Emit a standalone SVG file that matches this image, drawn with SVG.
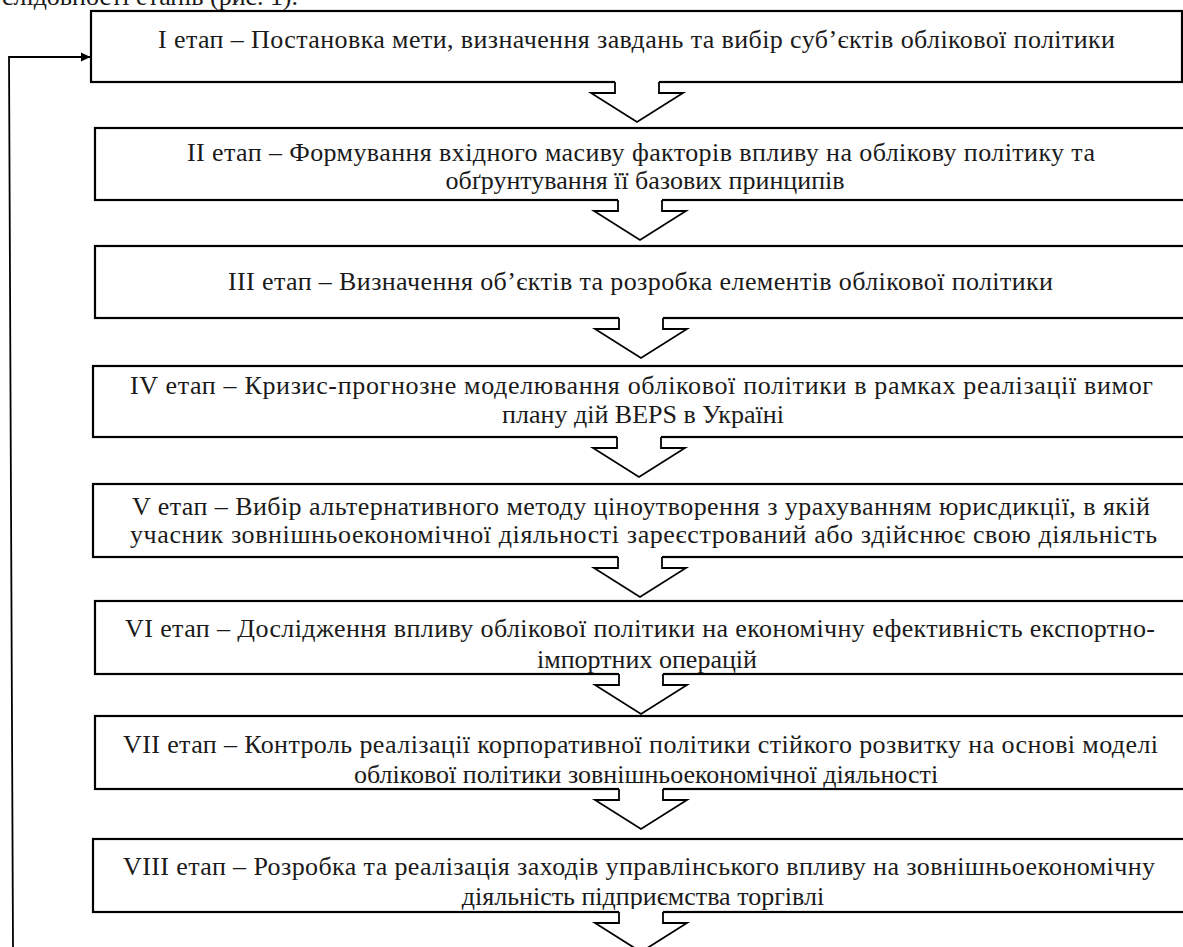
<svg xmlns="http://www.w3.org/2000/svg" xmlns:xlink="http://www.w3.org/1999/xlink" width="1183" height="947" viewBox="0 0 1183 947">
<style>
.box{fill:#fff;stroke:#000;stroke-width:2.2}
.t{font-family:"Liberation Serif","Times New Roman",serif;font-size:26px;fill:#1a1a1a}
.c{text-anchor:middle}
.ln{fill:none;stroke:#000;stroke-width:1.8}
.af{fill:#fff;stroke:none}
</style>
<defs>
<marker id="ah" markerWidth="10" markerHeight="10" refX="9" refY="5" orient="auto" markerUnits="userSpaceOnUse">
<path d="M0,0.5 L9.5,5 L0,9.5 Z" fill="#000"/>
</marker>
<g id="blk">
<path class="af" d="M-22,-3 V11 H-46 L0,40 L46,11 H22 V-3 Z"/>
<path class="ln" d="M-22,0 V11 H-46 L0,40 L46,11 H22 V0"/>
</g>
</defs>
<rect width="1183" height="947" fill="#fff"/>
<text class="t" x="2" y="5" textLength="296" lengthAdjust="spacing">слідовності етапів (рис. 1).</text>

<g id="n1"><rect class="box" x="91" y="11" width="1091" height="71"/>
<text class="t" x="158" y="48" textLength="957" lengthAdjust="spacing">I етап – Постановка мети, визначення завдань та вибір суб’єктів облікової політики</text></g>

<g id="n2"><rect class="box" x="95" y="128" width="1100" height="72"/>
<text class="t" x="187" y="161" textLength="908" lengthAdjust="spacing">II етап – Формування вхідного масиву факторів впливу на облікову політику та</text>
<text class="t c" x="645" y="189">обґрунтування її базових принципів</text></g>

<g id="n3"><rect class="box" x="95" y="246" width="1100" height="72"/>
<text class="t" x="228" y="290" textLength="825" lengthAdjust="spacing">III етап – Визначення об’єктів та розробка елементів облікової політики</text></g>

<g id="n4"><rect class="box" x="93" y="366" width="1100" height="71"/>
<text class="t" x="130" y="394" textLength="1023" lengthAdjust="spacing">IV етап – Кризис-прогнозне моделювання облікової політики в рамках реалізації вимог</text>
<text class="t c" x="643" y="423">плану дій BEPS в Україні</text></g>

<g id="n5"><rect class="box" x="93" y="484" width="1100" height="73"/>
<text class="t" x="132" y="515" textLength="1018" lengthAdjust="spacing">V етап – Вибір альтернативного методу ціноутворення з урахуванням юрисдикції, в якій</text>
<text class="t" x="130" y="543" textLength="1027" lengthAdjust="spacing">учасник зовнішньоекономічної діяльності зареєстрований або здійснює свою діяльність</text></g>

<g id="n6"><rect class="box" x="95" y="601" width="1100" height="73"/>
<text class="t" x="125" y="637" textLength="1030" lengthAdjust="spacing">VI етап – Дослідження впливу облікової політики на економічну ефективність експортно-</text>
<text class="t c" x="647" y="668">імпортних операцій</text></g>

<g id="n7"><rect class="box" x="95" y="716" width="1100" height="73"/>
<text class="t" x="123" y="753" textLength="1035" lengthAdjust="spacing">VII етап – Контроль реалізації корпоративної політики стійкого розвитку на основі моделі</text>
<text class="t c" x="646" y="783">облікової політики зовнішньоекономічної діяльності</text></g>

<g id="n8"><rect class="box" x="93" y="839" width="1100" height="73"/>
<text class="t" x="123" y="875" textLength="1032" lengthAdjust="spacing">VIII етап – Розробка та реалізація заходів управлінського впливу на зовнішньоекономічну</text>
<text class="t c" x="643" y="905">діяльність підприємства торгівлі</text></g>

<g id="connectors">
<use xlink:href="#blk" x="637" y="82"/>
<use xlink:href="#blk" x="640" y="200"/>
<use xlink:href="#blk" x="641" y="318"/>
<use xlink:href="#blk" x="639" y="437"/>
<use xlink:href="#blk" x="640" y="557"/>
<use xlink:href="#blk" x="641" y="674"/>
<use xlink:href="#blk" x="641" y="789"/>
<use xlink:href="#blk" x="641" y="912"/>
<path class="ln" d="M13,947 L9,57 L90,57" marker-end="url(#ah)"/>
</g>
</svg>
